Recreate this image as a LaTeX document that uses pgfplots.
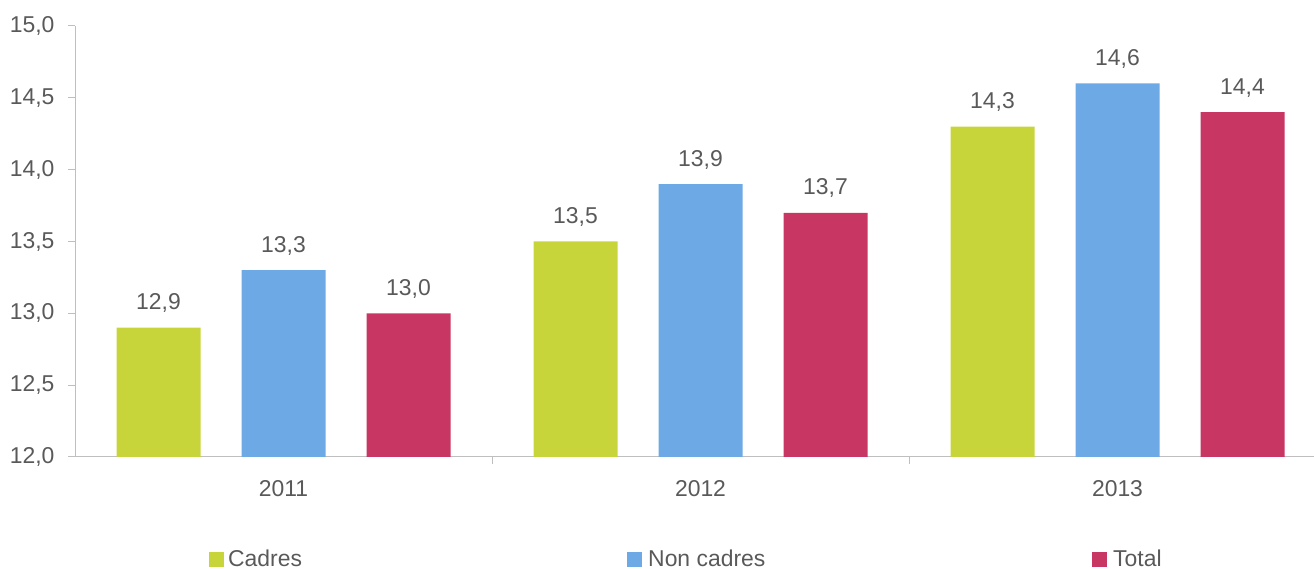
\documentclass[border=0pt]{standalone}
\usepackage{fontspec}
\setmainfont{Liberation Sans}
\usepackage{pgfplots}
\pgfplotsset{compat=1.18}
\definecolor{cadres}{HTML}{C8D53A}
\definecolor{noncadres}{HTML}{6DA9E4}
\definecolor{total}{HTML}{C83663}
\definecolor{txt}{HTML}{595959}
\definecolor{axl}{HTML}{BFBFBF}
\newcommand{\lbl}{\fontsize{23}{27}\selectfont}

\begin{document}
\begin{tikzpicture}
\path[use as bounding box] (0,0) rectangle (1314bp,569bp);
\begin{axis}[
	at={(75bp,112bp)}, anchor=south west,
	scale only axis, width=1251bp, height=431bp,
	xmin=-0.5, xmax=2.5, ymin=12, ymax=15,
	ybar=41bp, bar width=84bp,
	axis x line*=bottom, axis y line*=left,
	axis line style={axl, line width=1bp},
	every tick/.style={axl, line width=1bp},
	tick align=outside,
	major tick length=7bp, minor tick length=7bp,
	ytick={12,12.5,...,15},
	xtick={0,1,2}, xticklabels={2011,2012,2013},
	major x tick style={draw=none},
	minor xtick={0.5,1.5},
	/pgf/number format/.cd, fixed, fixed zerofill, precision=1, use comma, assume math mode=true,
	/pgfplots/.cd,
	every tick label/.append style={font=\lbl, text=txt},
	yticklabel style={anchor=east, xshift=-10bp},
	xticklabel style={anchor=base, yshift=-33bp},
	nodes near coords,
	every node near coord/.append style={font=\lbl, text=txt, anchor=base, inner sep=0pt, yshift=18bp},
	]

\addplot [fill=cadres, draw=none] coordinates {(0,12.9) (1,13.5) (2,14.3)};
\addplot [fill=noncadres, draw=none] coordinates {(0,13.3) (1,13.9) (2,14.6)};
\addplot [fill=total, draw=none] coordinates {(0,13.0) (1,13.7) (2,14.4)};

\end{axis}
% legend
\fill[cadres] (209bp,2bp) rectangle (224bp,17bp);
\node[anchor=base west, inner sep=0pt, text=txt, font=\lbl] at (228bp,3bp) {Cadres};
\fill[noncadres] (627bp,2bp) rectangle (642bp,17bp);
\node[anchor=base west, inner sep=0pt, text=txt, font=\lbl] at (648bp,3bp) {Non cadres};
\fill[total] (1092bp,2bp) rectangle (1107bp,17bp);
\node[anchor=base west, inner sep=0pt, text=txt, font=\lbl] at (1113bp,3bp) {Total};
\end{tikzpicture}
\end{document}
